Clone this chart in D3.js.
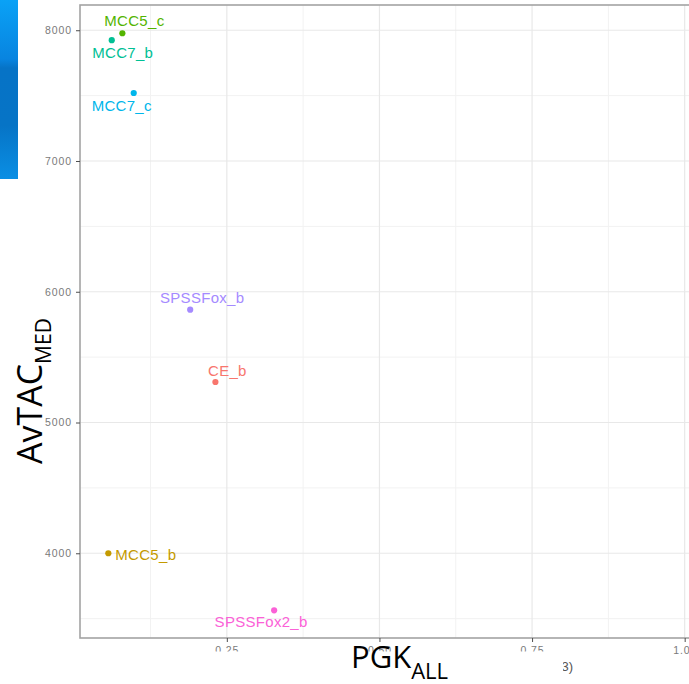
<!DOCTYPE html>
<html>
<head>
<meta charset="utf-8">
<script src="https://cdn.jsdelivr.net/npm/d3@7/dist/d3.min.js"></script>
<style>
  html, body { margin: 0; padding: 0; background: #fff; }
  svg { display: block; }
</style>
</head>
<body>
<svg id="chart" width="689" height="684"></svg>
<script>
// Methods compared on PGK (all) versus median AvTAC
const methods  = ["CE_b", "MCC5_b", "MCC5_c", "MCC7_b", "MCC7_c", "SPSSFox_b", "SPSSFox2_b"];
const pgkAll   = [0.2313, 0.0559, 0.0789, 0.0615, 0.0975, 0.1900, 0.3275];
const avtacMed = [5310, 4000, 7977, 7924, 7520, 5863, 3564];
const methodColors = ["#F8766D", "#C49A00", "#53B400", "#00C094", "#00B6EB", "#A58AFF", "#FB61D7"];

const xTicks = [0.25, 0.50, 0.75, 1.00];
const xTickLabels = ["0.25", "0.50", "0.75", "1.00"];
const xMinor = [0.125, 0.375, 0.625, 0.875];
const yTicks = [4000, 5000, 6000, 7000, 8000];
const yTickLabels = ["4000", "5000", "6000", "7000", "8000"];
const yMinor = [3500, 4500, 5500, 6500, 7500];

// label placement relative to each point (pixels), like a repelled text layer
const labelPlacement = {
  "CE_b":       { dx: 12,  dy: -6,  anchor: "middle" },
  "MCC5_b":     { dx: 7,   dy: 7,   anchor: "start" },
  "MCC5_c":     { dx: 12,  dy: -7,  anchor: "middle" },
  "MCC7_b":     { dx: 11,  dy: 18,  anchor: "middle" },
  "MCC7_c":     { dx: -12, dy: 18,  anchor: "middle" },
  "SPSSFox_b":  { dx: 12,  dy: -7,  anchor: "middle" },
  "SPSSFox2_b": { dx: -13, dy: 17,  anchor: "middle" }
};

const points = methods.map((m, i) => ({ name: m, x: pgkAll[i], y: avtacMed[i], color: methodColors[i] }));

const svg = d3.select("#chart");

const panel = { left: 80, right: 703, top: 5, bottom: 638 };
const x = d3.scaleLinear().domain([0.0095, 1.03]).range([panel.left, panel.right]);
const y = d3.scaleLinear().domain([3352, 8193]).range([panel.bottom, panel.top]);

// side tab
const defs = svg.append("defs");
const grad = defs.append("linearGradient").attr("id", "tabGrad")
  .attr("x1", 0).attr("y1", 0).attr("x2", 0).attr("y2", 1);
[["0", "#0aa2f6"], ["0.33", "#0884e0"], ["0.38", "#0673c6"], ["0.7", "#0674c6"], ["1", "#0a8fe4"]]
  .forEach(([o, c]) => grad.append("stop").attr("offset", o).attr("stop-color", c));
svg.append("rect").attr("x", 0).attr("y", 0).attr("width", 18).attr("height", 179).attr("fill", "url(#tabGrad)");

// grid
const grid = svg.append("g");
grid.selectAll(".xminor").data(xMinor).join("line")
  .attr("x1", d => x(d)).attr("x2", d => x(d)).attr("y1", panel.top).attr("y2", panel.bottom)
  .attr("stroke", "#f2f2f2").attr("stroke-width", 1);
grid.selectAll(".yminor").data(yMinor).join("line")
  .attr("y1", d => y(d)).attr("y2", d => y(d)).attr("x1", panel.left).attr("x2", panel.right)
  .attr("stroke", "#f2f2f2").attr("stroke-width", 1);
grid.selectAll(".xmajor").data(xTicks).join("line")
  .attr("x1", d => x(d)).attr("x2", d => x(d)).attr("y1", panel.top).attr("y2", panel.bottom)
  .attr("stroke", "#e8e8e8").attr("stroke-width", 1.2);
grid.selectAll(".ymajor").data(yTicks).join("line")
  .attr("y1", d => y(d)).attr("y2", d => y(d)).attr("x1", panel.left).attr("x2", panel.right)
  .attr("stroke", "#e8e8e8").attr("stroke-width", 1.2);

// panel border
svg.append("rect")
  .attr("x", panel.left).attr("y", panel.top)
  .attr("width", panel.right - panel.left).attr("height", panel.bottom - panel.top)
  .attr("fill", "none").attr("stroke", "#a3a3a3").attr("stroke-width", 1.6);

// axes
const tickFont = "Liberation Sans, Arial, sans-serif";
const yAxis = d3.axisLeft(y).tickValues(yTicks).tickFormat((d, i) => yTickLabels[i]).tickSize(4).tickPadding(4);
const gy = svg.append("g").attr("transform", `translate(${panel.left},0)`).call(yAxis);
const xAxis = d3.axisBottom(x).tickValues(xTicks).tickFormat((d, i) => xTickLabels[i]).tickSize(4).tickPadding(5);
const gx = svg.append("g").attr("transform", `translate(0,${panel.bottom})`).call(xAxis);
[gx, gy].forEach(g => {
  g.select(".domain").remove();
  g.selectAll(".tick line").attr("stroke", "#4d4d4d").attr("stroke-width", 1);
  g.selectAll(".tick text").attr("fill", "#7a7a7a").attr("font-family", tickFont)
    .attr("font-size", 10.5).style("letter-spacing", "0.9px");
});

// points
svg.append("g").selectAll("circle").data(points).join("circle")
  .attr("cx", d => x(d.x)).attr("cy", d => y(d.y)).attr("r", 3.1)
  .attr("fill", d => d.color);

// point labels
svg.append("g").selectAll("text").data(points).join("text")
  .attr("x", d => x(d.x) + labelPlacement[d.name].dx)
  .attr("y", d => y(d.y) + labelPlacement[d.name].dy)
  .attr("text-anchor", d => labelPlacement[d.name].anchor)
  .attr("fill", d => d.color)
  .attr("font-family", tickFont).attr("font-size", 15)
  .style("letter-spacing", "0.3px")
  .text(d => d.name);

// original axis title tail, partly covered
svg.append("text").attr("x", 573).attr("y", 671).attr("text-anchor", "end")
  .attr("fill", "#555").attr("font-family", tickFont).attr("font-size", 13).text("(3)");
svg.append("rect").attr("x", 74).attr("y", 651.5).attr("width", 489).attr("height", 33).attr("fill", "#fff");

// axis titles
const titleFont = "'Open Sans', 'Noto Sans', sans-serif";
const xt = svg.append("text").attr("x", 351).attr("y", 668)
  .attr("font-family", titleFont).attr("fill", "#000");
xt.append("tspan").attr("font-size", 31).text("PGK");
xt.append("tspan").attr("font-size", 22).attr("dy", 11).text("ALL");

const yt = svg.append("text").attr("transform", "translate(42,464) rotate(-90)")
  .attr("font-family", titleFont).attr("fill", "#000");
yt.append("tspan").attr("font-size", 34).text("AvTAC");
yt.append("tspan").attr("font-size", 21).attr("dy", 9).text("MED");
</script>
</body>
</html>
